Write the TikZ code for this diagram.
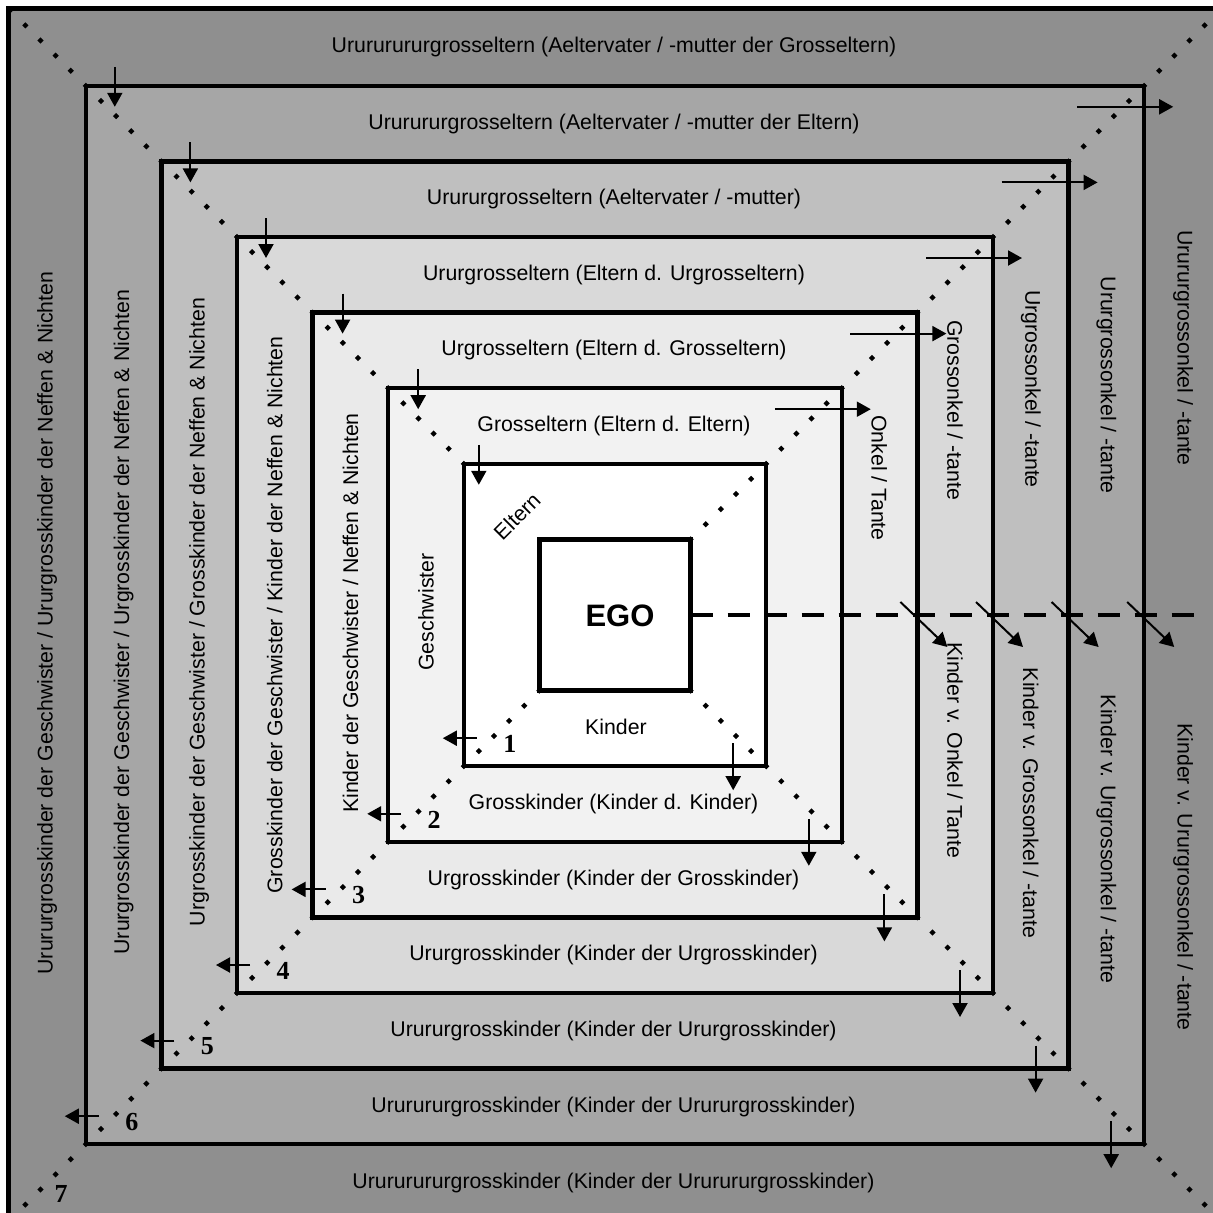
\documentclass[tikz,border=0pt]{standalone}
\usepackage{fontspec}
\setmainfont{Liberation Sans}
\newfontfamily\ziffern{Liberation Serif}
\usepackage{tikz}
\usetikzlibrary{arrows.meta,calc}
\definecolor{grau8}{HTML}{8F8F8F}
\definecolor{grau7}{HTML}{A6A6A6}
\definecolor{grau6}{HTML}{BFBFBF}
\definecolor{grau5}{HTML}{D9D9D9}
\definecolor{grau4}{HTML}{EAEAEA}
\definecolor{grau3}{HTML}{F2F2F2}
\definecolor{grau2}{HTML}{FFFFFF}
\definecolor{grau1}{HTML}{FFFFFF}

\begin{document}
\begin{tikzpicture}[x=1pt,y=-1pt,font=\fontsize{21.3}{25}\selectfont,
    rahmen/.style={draw=black,line width=4.5pt,inner sep=0pt,outer sep=0pt},
    punkte/.style={line width=4.4pt,dash pattern=on 4.4pt off 16.98pt,dash phase=2.2pt},
    strich/.style={line width=4.5pt,dash pattern=on 22pt off 15pt},
    pfeil/.style={line width=2pt,-{Triangle[length=14pt,width=15pt]}},
    txt/.style={inner sep=0pt},
    nummer/.style={inner sep=0pt,font=\ziffern\bfseries\fontsize{26}{26}\selectfont}]
  \useasboundingbox (0,0) rectangle (1213,1213);
  \fill[white] (0,0) rectangle (1213,1213);

  % Quadrate von aussen nach innen
  \node[rahmen,fill=grau8,minimum size=1213pt] (q8) at (615,615) {};
  \foreach \k in {7,...,1}
    \node[rahmen,fill=grau\k,minimum size=\k*151.2pt] (q\k) at (615,615) {};

  % Diagonalen und Strichlinie
  \draw[punkte] (q1.north east) -- (q8.north east);
  \draw[punkte] (q2.north west) -- (q8.north west);
  \draw[punkte] (q1.south west) -- (q8.south west);
  \draw[punkte] (q1.south east) -- (q8.south east);
  \coordinate (strichende) at (1197,615);
  \draw[strich] (q1.east) -- (strichende);

  % Pfeile
  \foreach \k/\dx in {2/15,3/30,4/30,5/29,6/29,7/29}
    \draw[pfeil] ($(q\k.north west)+(\dx,-19)$) -- ++(0,40);
  \foreach \k in {3,...,7}
    \draw[pfeil] ($(q\k.north east)+(-67,21)$) -- ++(96,0);
  \foreach \k in {2,...,7}
    \draw[pfeil] ($(q\k.south east)+(-33,-23)$) -- ++(0,47);
  \foreach \k/\n in {2/1,3/2,4/3,5/4,6/5,7/6} {
    \draw[pfeil] ($(q\k.south west)+(13,-28)$) -- ++(-34,0);
    \node[nummer] (nr\n) at ($(q\k.south west)+(46,-22)$) {\n};
  }
  \node[nummer] (nr7) at (61,1194) {7};
  \foreach \k in {4,...,7}
    \draw[pfeil] ($(q\k.east)+(-17,-13)$) -- ++(47,45);

  % Mitte
  \node[txt,font=\bfseries\fontsize{31}{31}\selectfont] (ego) at (620,616) {EGO};
  \node[txt,rotate=45] (eltern) at (517,516) {Eltern};
  \node[txt] (kinder) at (616,727) {Kinder};
  \node[txt,rotate=90] (geschwister) at (426,612) {Geschwister};

  % oben
  \node[txt] (oben2) at (614,426) {Grosseltern (Eltern d. Eltern)};
  \node[txt] (oben3) at (614,350.4) {Urgrosseltern (Eltern d. Grosseltern)};
  \node[txt] (oben4) at (614,274.8) {Ururgrosseltern (Eltern d. Urgrosseltern)};
  \node[txt] (oben5) at (614,199.2) {Urururgrosseltern (Aeltervater / -mutter)};
  \node[txt] (oben6) at (614,123.6) {Ururururgrosseltern (Aeltervater / -mutter der Eltern)};
  \node[txt] (oben7) at (614,47.2) {Urururururgrosseltern (Aeltervater / -mutter der Grosseltern)};

  % unten
  \node[txt] (unten2) at (613.5,804) {Grosskinder (Kinder d. Kinder)};
  \node[txt] (unten3) at (613.5,880) {Urgrosskinder (Kinder der Grosskinder)};
  \node[txt] (unten4) at (613.5,955.2) {Ururgrosskinder (Kinder der Urgrosskinder)};
  \node[txt] (unten5) at (613.5,1030.8) {Urururgrosskinder (Kinder der Ururgrosskinder)};
  \node[txt] (unten6) at (613.5,1107) {Ururururgrosskinder (Kinder der Urururgrosskinder)};
  \node[txt] (unten7) at (613.5,1183) {Urururururgrosskinder (Kinder der Ururururgrosskinder)};

  % links
  \node[txt,rotate=90] (links3) at (350.4,613) {Kinder der Geschwister / Neffen \& Nichten};
  \node[txt,rotate=90] (links4) at (274.8,615) {Grosskinder der Geschwister / Kinder der Neffen \& Nichten};
  \node[txt,rotate=90] (links5) at (199.2,612) {Urgrosskinder der Geschwister / Grosskinder der Neffen \& Nichten};
  \node[txt,rotate=90] (links6) at (123.6,622) {Ururgrosskinder der Geschwister / Urgrosskinder der Neffen \& Nichten};
  \node[txt,rotate=90] (links7) at (47.2,623) {Urururgrosskinder der Geschwister / Ururgrosskinder der Neffen \& Nichten};

  % rechts
  \node[txt,rotate=-90] (rechts3) at (879.2,478) {Onkel / Tante};
  \node[txt,rotate=-90] (rechts4) at (955,410) {Grossonkel / -tante};
  \node[txt,rotate=-90] (rechts5) at (1030.8,389) {Urgrossonkel / -tante};
  \node[txt,rotate=-90] (rechts6) at (1106.4,385) {Ururgrossonkel / -tante};
  \node[txt,rotate=-90] (rechts7) at (1183,348) {Urururgrossonkel / -tante};
  \node[txt,rotate=-90] (kinder4) at (955,750) {Kinder v. Onkel / Tante};
  \node[txt,rotate=-90] (kinder5) at (1030.8,803) {Kinder v. Grossonkel / -tante};
  \node[txt,rotate=-90] (kinder6) at (1106.4,839) {Kinder v. Urgrossonkel / -tante};
  \node[txt,rotate=-90] (kinder7) at (1183,877) {Kinder v. Ururgrossonkel / -tante};
\end{tikzpicture}
\end{document}
